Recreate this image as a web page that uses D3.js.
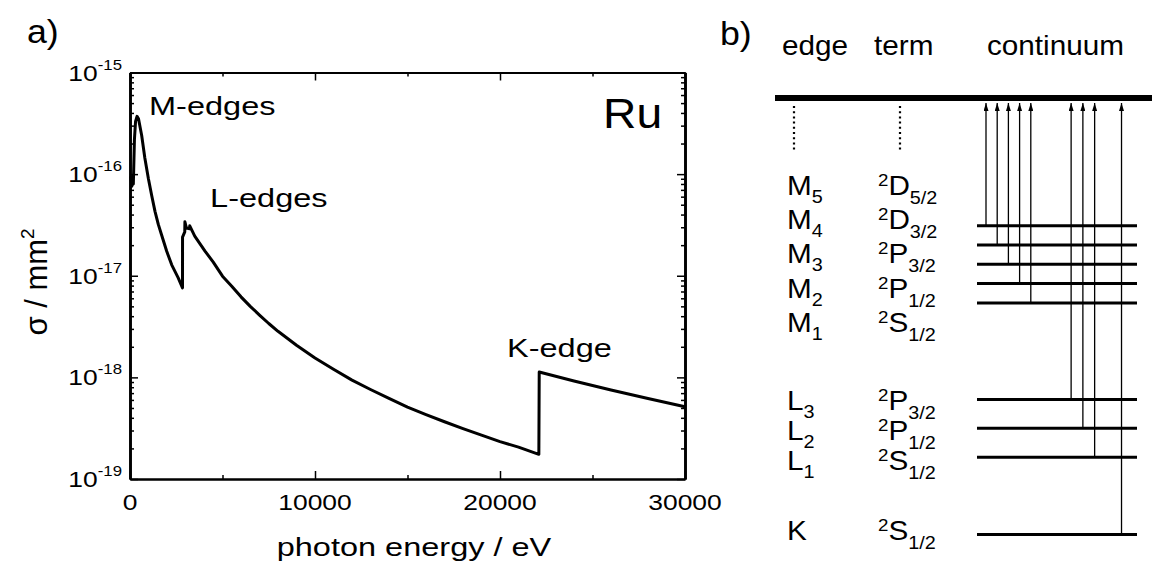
<!DOCTYPE html>
<html>
<head>
<meta charset="utf-8">
<script src="https://cdn.jsdelivr.net/npm/d3@7"></script>
<style>
  body { margin: 0; background: #fff; }
  text { font-family: Arial, "Liberation Sans", Helvetica, sans-serif; fill: #000; }
</style>
</head>
<body>
<svg id="fig" width="1152" height="564"></svg>
<script>
// cross section of Ru vs photon energy
var energy = [40, 100, 140, 180, 240, 300, 380, 460, 632, 800, 990, 1170, 1351, 1530, 1713, 1980, 2254, 2600, 2838,
  2840, 2960, 2968, 3050, 3224, 3230, 3500, 4054, 4500, 5000, 5500, 6000, 6500, 7000, 7500, 8000, 9000, 10000,
  11000, 12000, 13000, 14000, 15000, 16000, 17000, 18000, 19000, 20000, 21000, 22100,
  22120, 24000, 26000, 28000, 30000];
var sigma = [9.5e-17, 7.6e-17, 9.4e-17, 8.0e-17, 2.2e-16, 3.3e-16, 3.7e-16, 3.5e-16, 2.4e-16, 1.45e-16,
  9.1e-17, 6.2e-17, 4.3e-17, 3.2e-17, 2.5e-17, 1.75e-17, 1.28e-17, 9.6e-18, 7.6e-18,
  2.4e-17, 2.7e-17, 3.4e-17, 2.95e-17, 2.9e-17, 3.1e-17, 2.45e-17, 1.75e-17, 1.36e-17, 9.9e-18, 7.9e-18,
  6.2e-18, 5.0e-18, 4.1e-18, 3.39e-18, 2.84e-18, 2.07e-18, 1.55e-18, 1.2e-18, 9.4e-19, 7.6e-19, 6.2e-19,
  5.1e-19, 4.3e-19, 3.66e-19, 3.13e-19, 2.7e-19, 2.33e-19, 2.06e-19, 1.75e-19,
  1.13e-18, 9.2e-19, 7.5e-19, 6.2e-19, 5.15e-19];

var xTicks = [0, 10000, 20000, 30000];
var xMinor = [5000, 15000, 25000];
var yExps = [-19, -18, -17, -16, -15];

// annotations, anchored in data coordinates
var notes = ['M-edges', 'L-edges', 'K-edge'];
var noteE = [1030, 4330, 20380];
var noteS = [3.8e-16, 4.8e-17, 1.6e-18];

// level scheme (panel b)
var edgeName = ['M', 'M', 'M', 'M', 'M', 'L', 'L', 'L', 'K'];
var edgeSub = ['5', '4', '3', '2', '1', '3', '2', '1', ''];
var termL = ['D', 'D', 'P', 'P', 'S', 'P', 'P', 'S', 'S'];
var termJ = ['5/2', '3/2', '3/2', '1/2', '1/2', '3/2', '1/2', '1/2', '1/2'];
var levelDepth = [0, 1, 2, 3, 4, 9, 10.5, 12, 16];   // schematic binding depth
var labelRow = [0, 1, 2, 3, 4, 6.28, 7.16, 8.05, 10.1];
var arrowSlot = [0, 1, 2, 3, 4, 7.6, 8.65, 9.7, 12.1];

var svg = d3.select('#fig');

// text with a horizontal stretch, like the original figure
function txt(parent, x, y, size, sx, anchor) {
  return parent.append('text')
    .attr('transform', 'translate(' + x + ',' + y + ') scale(' + sx + ',1)')
    .attr('font-size', size)
    .attr('text-anchor', anchor || 'start');
}

/* ---------- panel a ---------- */
var plotL = 130, plotR = 685, plotT = 72.5, plotB = 479;

var x = d3.scaleLinear().domain([0, 30000]).range([plotL, plotR]);
var y = d3.scaleLog().domain([1e-19, 1e-15]).range([plotB, plotT]);

var yMinor = y.ticks().filter(function (v) {
  return Math.abs(Math.log10(v) - Math.round(Math.log10(v))) > 1e-6;
});

function styleAxis(g, w) {
  g.select('.domain').attr('stroke-width', w);
  g.selectAll('.tick line').attr('stroke-width', 1.5);
}

var gA = svg.append('g');

gA.append('g').attr('transform', 'translate(0,' + plotB + ')')
  .call(d3.axisBottom(x).tickValues(xTicks).tickSize(-8).tickSizeOuter(0).tickFormat(''))
  .call(styleAxis, 2);
gA.append('g').attr('transform', 'translate(0,' + plotB + ')')
  .call(d3.axisBottom(x).tickValues(xMinor).tickSize(-4).tickSizeOuter(0).tickFormat(''))
  .call(styleAxis, 2);
gA.append('g').attr('transform', 'translate(0,' + plotT + ')')
  .call(d3.axisTop(x).tickValues(xTicks).tickSize(-8).tickSizeOuter(0).tickFormat(''))
  .call(styleAxis, 2);
gA.append('g').attr('transform', 'translate(0,' + plotT + ')')
  .call(d3.axisTop(x).tickValues(xMinor).tickSize(-4).tickSizeOuter(0).tickFormat(''))
  .call(styleAxis, 2);

var decades = yExps.map(function (e) { return Math.pow(10, e); });
gA.append('g').attr('transform', 'translate(' + plotL + ',0)')
  .call(d3.axisLeft(y).tickValues(decades).tickSize(-8).tickSizeOuter(0).tickFormat(''))
  .call(styleAxis, 2.6);
gA.append('g').attr('transform', 'translate(' + plotL + ',0)')
  .call(d3.axisLeft(y).tickValues(yMinor).tickSize(-4).tickSizeOuter(0).tickFormat(''))
  .call(styleAxis, 2.6);
gA.append('g').attr('transform', 'translate(' + plotR + ',0)')
  .call(d3.axisRight(y).tickValues(decades).tickSize(-8).tickSizeOuter(0).tickFormat(''))
  .call(styleAxis, 2.6);
gA.append('g').attr('transform', 'translate(' + plotR + ',0)')
  .call(d3.axisRight(y).tickValues(yMinor).tickSize(-4).tickSizeOuter(0).tickFormat(''))
  .call(styleAxis, 2.6);

// tick labels
xTicks.forEach(function (v) {
  txt(gA, x(v), plotB + 30.5, 22, 1.2, 'middle').text(v);
});
yExps.forEach(function (e) {
  var t = txt(gA, plotL - 8, y(Math.pow(10, e)) + 8, 22, 1.2, 'end');
  t.append('tspan').text('10');
  t.append('tspan').attr('font-size', 14).attr('dy', -11).text(e);
});

// the curve
var line = d3.line()
  .x(function (d) { return x(d[0]); })
  .y(function (d) { return y(d[1]); });

gA.append('path')
  .datum(d3.zip(energy, sigma))
  .attr('d', line)
  .attr('fill', 'none')
  .attr('stroke', '#000')
  .attr('stroke-width', 3)
  .attr('stroke-linejoin', 'round');

notes.forEach(function (n, i) {
  txt(gA, x(noteE[i]), y(noteS[i]), 25, 1.3).text(n);
});
txt(gA, x(25570), y(2.85e-16), 42, 1.1).text('Ru');

txt(gA, 414, 556, 25, 1.3, 'middle').text('photon energy / eV');
var yt = gA.append('text')
  .attr('transform', 'translate(47,282) rotate(-90)')
  .attr('font-size', 31)
  .attr('text-anchor', 'middle');
yt.append('tspan').text('\u03c3 / mm');
yt.append('tspan').attr('font-size', 19).attr('dy', -13).text('2');

txt(svg, 27, 43, 34, 1.05).text('a)');

/* ---------- panel b ---------- */
var gB = svg.append('g');
var barY = 98;
var levelY = d3.scaleLinear().domain([0, 16]).range([225.7, 534.5]);
var rowY = d3.scaleLinear().domain([0, 1]).range([195, 229.2]);
var arrowX = d3.scaleLinear().domain([0, 1]).range([986, 997.2]);

txt(svg, 720, 45, 34, 1.05).text('b)');
txt(gB, 782, 55, 27, 1.1).text('edge');
txt(gB, 874, 55, 27, 1.1).text('term');
txt(gB, 987, 55, 27, 1.1).text('continuum');

svg.append('defs').append('marker')
  .attr('id', 'head')
  .attr('viewBox', '0 0 8 5')
  .attr('refX', 8).attr('refY', 2.5)
  .attr('markerWidth', 8).attr('markerHeight', 5)
  .attr('markerUnits', 'userSpaceOnUse')
  .attr('orient', 'auto')
  .append('path').attr('d', 'M0,0L8,2.5L0,5Z').attr('fill', '#000');

// continuum
gB.append('line')
  .attr('x1', 775).attr('x2', 1152)
  .attr('y1', barY).attr('y2', barY)
  .attr('stroke', '#000').attr('stroke-width', 6);

// dotted "more levels" marks
[794, 900].forEach(function (dx) {
  gB.append('line')
    .attr('x1', dx).attr('x2', dx)
    .attr('y1', 106).attr('y2', 152)
    .attr('stroke', '#000').attr('stroke-width', 2.2)
    .attr('stroke-dasharray', '2,3.2');
});

// levels
gB.selectAll('.level')
  .data(levelDepth)
  .enter().append('line')
  .attr('class', 'level')
  .attr('x1', 977).attr('x2', 1137)
  .attr('y1', function (d) { return levelY(d); })
  .attr('y2', function (d) { return levelY(d); })
  .attr('stroke', '#000').attr('stroke-width', 3);

// excitation arrows
gB.selectAll('.arrow')
  .data(d3.zip(arrowSlot, levelDepth))
  .enter().append('line')
  .attr('class', 'arrow')
  .attr('x1', function (d) { return arrowX(d[0]); })
  .attr('x2', function (d) { return arrowX(d[0]); })
  .attr('y1', function (d) { return levelY(d[1]); })
  .attr('y2', barY + 5)
  .attr('stroke', '#000').attr('stroke-width', 1.3)
  .attr('marker-end', 'url(#head)');

// edge and term labels
labelRow.forEach(function (r, i) {
  var t = txt(gB, 787, rowY(r), 27, 1.1);
  t.append('tspan').text(edgeName[i]);
  if (edgeSub[i]) t.append('tspan').attr('font-size', 18).attr('dy', 8).text(edgeSub[i]);

  var u = txt(gB, 878, rowY(r), 27, 1.1);
  u.append('tspan').attr('font-size', 17).attr('dy', -9).text('2');
  u.append('tspan').attr('dy', 9).text(termL[i]);
  u.append('tspan').attr('font-size', 18).attr('dy', 9).text(termJ[i]);
});
</script>
</body>
</html>
